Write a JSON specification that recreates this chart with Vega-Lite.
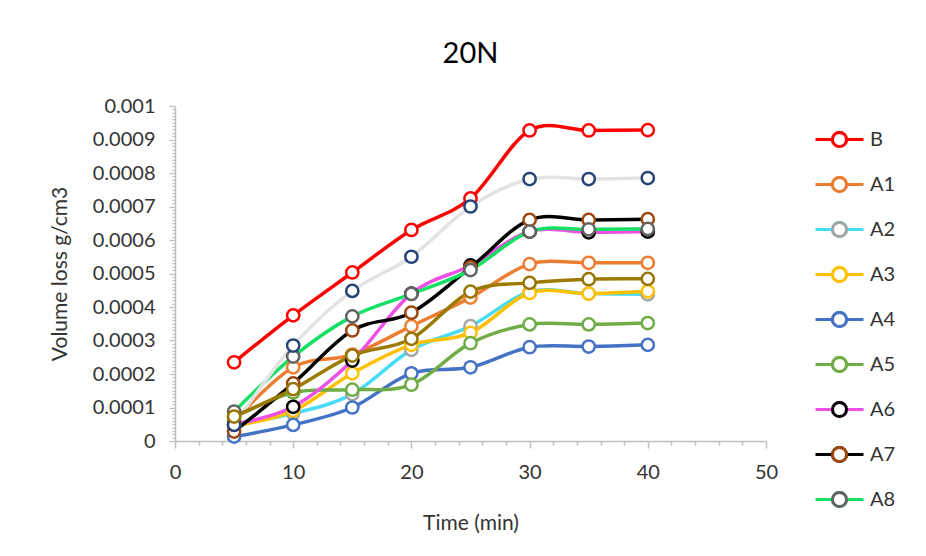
{
  "$schema": "https://vega.github.io/schema/vega-lite/v6.json",
  "width": 591,
  "height": 335,
  "autosize": "none",
  "padding": {"left": 175, "top": 106, "right": 160, "bottom": 115},
  "background": "white",
  "title": {"text": "20N", "font": "Lato", "fontSize": 29, "fontWeight": "normal", "color": "#000000", "offset": 27, "anchor": "middle"},
  "config": {"view": {"stroke": null}, "font": "Lato"},
  "data": {"values": [
    {"t": 5, "s": "B", "v": 0.000235}, {"t": 10, "s": "B", "v": 0.000375}, {"t": 15, "s": "B", "v": 0.000503}, {"t": 20, "s": "B", "v": 0.00063}, {"t": 25, "s": "B", "v": 0.000724}, {"t": 30, "s": "B", "v": 0.000927}, {"t": 35, "s": "B", "v": 0.000927}, {"t": 40, "s": "B", "v": 0.000928},
    {"t": 5, "s": "A1", "v": 0.00006}, {"t": 10, "s": "A1", "v": 0.00022}, {"t": 15, "s": "A1", "v": 0.000258}, {"t": 20, "s": "A1", "v": 0.000343}, {"t": 25, "s": "A1", "v": 0.000428}, {"t": 30, "s": "A1", "v": 0.000528}, {"t": 35, "s": "A1", "v": 0.000532}, {"t": 40, "s": "A1", "v": 0.000532},
    {"t": 5, "s": "A2", "v": 0.00005}, {"t": 10, "s": "A2", "v": 0.000082}, {"t": 15, "s": "A2", "v": 0.00014}, {"t": 20, "s": "A2", "v": 0.000272}, {"t": 25, "s": "A2", "v": 0.000343}, {"t": 30, "s": "A2", "v": 0.000445}, {"t": 35, "s": "A2", "v": 0.00044}, {"t": 40, "s": "A2", "v": 0.000438},
    {"t": 5, "s": "A3", "v": 0.000045}, {"t": 10, "s": "A3", "v": 0.00009}, {"t": 15, "s": "A3", "v": 0.000202}, {"t": 20, "s": "A3", "v": 0.000287}, {"t": 25, "s": "A3", "v": 0.000323}, {"t": 30, "s": "A3", "v": 0.000442}, {"t": 35, "s": "A3", "v": 0.00044}, {"t": 40, "s": "A3", "v": 0.000447},
    {"t": 5, "s": "A4", "v": 0.000013}, {"t": 10, "s": "A4", "v": 0.000048}, {"t": 15, "s": "A4", "v": 0.0001}, {"t": 20, "s": "A4", "v": 0.000202}, {"t": 25, "s": "A4", "v": 0.00022}, {"t": 30, "s": "A4", "v": 0.00028}, {"t": 35, "s": "A4", "v": 0.000282}, {"t": 40, "s": "A4", "v": 0.000287},
    {"t": 5, "s": "A5", "v": 0.00007}, {"t": 10, "s": "A5", "v": 0.000145}, {"t": 15, "s": "A5", "v": 0.000153}, {"t": 20, "s": "A5", "v": 0.000168}, {"t": 25, "s": "A5", "v": 0.000292}, {"t": 30, "s": "A5", "v": 0.000348}, {"t": 35, "s": "A5", "v": 0.000348}, {"t": 40, "s": "A5", "v": 0.000352},
    {"t": 5, "s": "A6", "v": 0.00005}, {"t": 10, "s": "A6", "v": 0.000102}, {"t": 15, "s": "A6", "v": 0.00024}, {"t": 20, "s": "A6", "v": 0.00044}, {"t": 25, "s": "A6", "v": 0.000524}, {"t": 30, "s": "A6", "v": 0.000625}, {"t": 35, "s": "A6", "v": 0.000623}, {"t": 40, "s": "A6", "v": 0.000625},
    {"t": 5, "s": "A7", "v": 0.000028}, {"t": 10, "s": "A7", "v": 0.000172}, {"t": 15, "s": "A7", "v": 0.00033}, {"t": 20, "s": "A7", "v": 0.000383}, {"t": 25, "s": "A7", "v": 0.000518}, {"t": 30, "s": "A7", "v": 0.00066}, {"t": 35, "s": "A7", "v": 0.00066}, {"t": 40, "s": "A7", "v": 0.000662},
    {"t": 5, "s": "A8", "v": 0.000088}, {"t": 10, "s": "A8", "v": 0.000252}, {"t": 15, "s": "A8", "v": 0.000372}, {"t": 20, "s": "A8", "v": 0.000439}, {"t": 25, "s": "A8", "v": 0.00051}, {"t": 30, "s": "A8", "v": 0.000625}, {"t": 35, "s": "A8", "v": 0.000632}, {"t": 40, "s": "A8", "v": 0.000633},
    {"t": 5, "s": "A9", "v": 0.000048}, {"t": 10, "s": "A9", "v": 0.000285}, {"t": 15, "s": "A9", "v": 0.000448}, {"t": 20, "s": "A9", "v": 0.00055}, {"t": 25, "s": "A9", "v": 0.0007}, {"t": 30, "s": "A9", "v": 0.000782}, {"t": 35, "s": "A9", "v": 0.000782}, {"t": 40, "s": "A9", "v": 0.000785},
    {"t": 5, "s": "A10", "v": 0.000073}, {"t": 10, "s": "A10", "v": 0.000155}, {"t": 15, "s": "A10", "v": 0.000255}, {"t": 20, "s": "A10", "v": 0.000305}, {"t": 25, "s": "A10", "v": 0.000446}, {"t": 30, "s": "A10", "v": 0.000472}, {"t": 35, "s": "A10", "v": 0.000483}, {"t": 40, "s": "A10", "v": 0.000484}
  ]},
  "encoding": {
    "x": {
      "field": "t", "type": "quantitative",
      "scale": {"domain": [0, 50], "nice": false},
      "axis": {
        "title": "Time (min)",
        "values": [0, 2, 4, 6, 8, 10, 12, 14, 16, 18, 20, 22, 24, 26, 28, 30, 32, 34, 36, 38, 40, 42, 44, 46, 48, 50],
        "labelExpr": "datum.value % 10 === 0 ? datum.label : ''",
        "tickSize": {"condition": {"test": "datum.value % 10 === 0", "value": 7}, "value": 4},
        "grid": false,
        "domainColor": "#BFBFBF", "domainWidth": 1.5,
        "tickColor": "#BFBFBF", "tickWidth": 1.5,
        "labelFont": "Lato", "labelFontSize": 20, "labelColor": "#333333", "labelPadding": 14,
        "labelOverlap": false, "labelFlush": false,
        "titleFont": "Lato", "titleFontSize": 21, "titleFontWeight": "normal", "titleColor": "#333333", "titlePadding": 30
      }
    },
    "y": {
      "field": "v", "type": "quantitative",
      "scale": {"domain": [0, 0.001], "nice": false},
      "axis": {
        "title": "Volume loss g/cm3",
        "tickCount": 100,
        "labelExpr": "abs(datum.value * 10000 - round(datum.value * 10000)) < 0.01 ? format(datum.value, '.4~f') : ''",
        "tickSize": {"condition": {"test": "abs(datum.value * 10000 - round(datum.value * 10000)) < 0.01", "value": 6}, "value": 3},
        "grid": false,
        "domainColor": "#BFBFBF", "domainWidth": 1.5,
        "tickColor": "#BFBFBF", "tickWidth": 1.2,
        "labelFont": "Lato", "labelFontSize": 20, "labelColor": "#333333", "labelPadding": 14,
        "labelOverlap": false, "labelFlush": false,
        "titleFont": "Lato", "titleFontSize": 21, "titleFontWeight": "normal", "titleColor": "#333333", "titlePadding": 22
      }
    }
  },
  "layer": [
    {
      "mark": {"type": "line", "interpolate": "cardinal", "tension": 0, "strokeWidth": 3.5},
      "encoding": {
        "stroke": {
          "field": "s", "type": "nominal",
          "scale": {
            "domain": ["B", "A1", "A2", "A3", "A4", "A5", "A6", "A7", "A8", "A9", "A10"],
            "range": ["#FF0000", "#ED7D31", "#4BDCF5", "#FFC000", "#4472C4", "#70AD47", "#EE4FE5", "#000000", "#16E064", "#E3E3E3", "#9C7A00"]
          },
          "legend": {
            "values": ["B", "A1", "A2", "A3", "A4", "A5", "A6", "A7", "A8"],
            "title": null, "orient": "none", "legendX": 643, "legendY": 12, "padding": 0,
            "symbolType": "M-1.2,0H-0.35M0.35,0H1.2M0.35,0A0.35,0.35,0,1,1,-0.35,0A0.35,0.35,0,1,1,0.35,0Z", "symbolSize": 1600, "symbolStrokeWidth": 3,
            "rowPadding": 10, "labelOffset": 9,
            "labelFont": "Lato", "labelFontSize": 20, "labelColor": "#333333"
          }
        }
      }
    },
    {
      "mark": {"type": "point", "shape": "circle", "filled": true, "fill": "white", "size": 150, "strokeWidth": 2.5, "opacity": 1},
      "encoding": {
        "stroke": {
          "field": "s", "type": "nominal",
          "scale": {
            "domain": ["B", "A1", "A2", "A3", "A4", "A5", "A6", "A7", "A8", "A9", "A10"],
            "range": ["#FF0000", "#ED7D31", "#A5A5A5", "#FFC000", "#4472C4", "#70AD47", "#000000", "#9E480E", "#636363", "#264478", "#997300"]
          },
          "legend": {
            "values": ["B", "A1", "A2", "A3", "A4", "A5", "A6", "A7", "A8"],
            "title": null, "orient": "none", "legendX": 643, "legendY": 12, "padding": 0,
            "symbolType": "M0.35,0A0.35,0.35,0,1,1,-0.35,0A0.35,0.35,0,1,1,0.35,0Z", "symbolSize": 1600,
            "symbolStrokeWidth": 3, "symbolFillColor": "white",
            "rowPadding": 10, "labelOffset": 9,
            "labelFont": "Lato", "labelFontSize": 20, "labelColor": "#333333", "labelOpacity": 0
          }
        }
      }
    }
  ],
  "resolve": {"scale": {"stroke": "independent"}}
}
